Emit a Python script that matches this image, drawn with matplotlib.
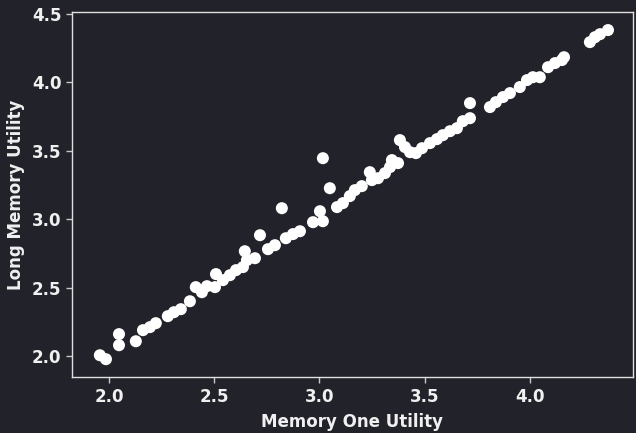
import matplotlib
matplotlib.use("Agg")
import matplotlib.pyplot as plt

memory_one = [1.957, 1.986, 2.048, 2.048, 2.128, 2.162, 2.195, 2.223, 2.280, 2.309,
              2.342, 2.385, 2.413, 2.442, 2.466, 2.504, 2.509, 2.542, 2.575, 2.604,
              2.637, 2.646, 2.656, 2.694, 2.718, 2.756, 2.789, 2.822, 2.841, 2.875,
              2.908, 2.970, 3.003, 3.017, 3.017, 3.050, 3.084, 3.112, 3.145, 3.169,
              3.202, 3.240, 3.250, 3.279, 3.312, 3.336, 3.345, 3.374, 3.383, 3.407,
              3.431, 3.459, 3.488, 3.526, 3.559, 3.587, 3.621, 3.654, 3.682, 3.716,
              3.716, 3.811, 3.839, 3.873, 3.906, 3.953, 3.987, 4.015, 4.048, 4.087,
              4.120, 4.153, 4.163, 4.286, 4.310, 4.334, 4.372]
long_memory = [2.007, 1.978, 2.161, 2.080, 2.109, 2.190, 2.212, 2.241, 2.292, 2.321,
               2.343, 2.401, 2.504, 2.467, 2.511, 2.504, 2.599, 2.555, 2.591, 2.628,
               2.650, 2.766, 2.701, 2.715, 2.883, 2.781, 2.810, 3.080, 2.861, 2.891,
               2.912, 2.978, 3.058, 3.445, 2.985, 3.226, 3.088, 3.117, 3.168, 3.212,
               3.241, 3.343, 3.285, 3.299, 3.336, 3.380, 3.431, 3.409, 3.577, 3.526,
               3.489, 3.482, 3.518, 3.555, 3.584, 3.613, 3.642, 3.664, 3.715, 3.737,
               3.847, 3.818, 3.854, 3.891, 3.920, 3.964, 4.015, 4.036, 4.036, 4.109,
               4.139, 4.161, 4.182, 4.292, 4.328, 4.350, 4.380]

xticks = [2.0, 2.5, 3.0, 3.5, 4.0]
yticks = [2.0, 2.5, 3.0, 3.5, 4.0, 4.5]

bg = "#22222a"
fg = "#f0f0f0"

fig = plt.figure(figsize=(6.36, 4.33), dpi=100, facecolor=bg)
ax = fig.add_axes([0.113, 0.129, 0.882, 0.843], facecolor=bg)
ax.scatter(memory_one, long_memory, s=75, color="white", edgecolors="none", zorder=3)

ax.set_xlim(1.824, 4.490)
ax.set_ylim(1.847, 4.511)
ax.set_xticks(xticks)
ax.set_yticks(yticks)
ax.set_xticklabels([f"{t:.1f}" for t in xticks])
ax.set_yticklabels([f"{t:.1f}" for t in yticks])

for s in ax.spines.values():
    s.set_color("#e0e0e0")
    s.set_linewidth(1.0)
ax.tick_params(colors="#c8c8c8", labelcolor=fg, labelsize=12, length=4, width=1)
for lab in ax.get_xticklabels() + ax.get_yticklabels():
    lab.set_fontweight("bold")

ax.set_xlabel("Memory One Utility", color=fg, fontsize=12, fontweight="bold", labelpad=5)
ax.set_ylabel("Long Memory Utility", color=fg, fontsize=12, fontweight="bold", labelpad=5)

fig.savefig("out.png", dpi=100, facecolor=bg)
